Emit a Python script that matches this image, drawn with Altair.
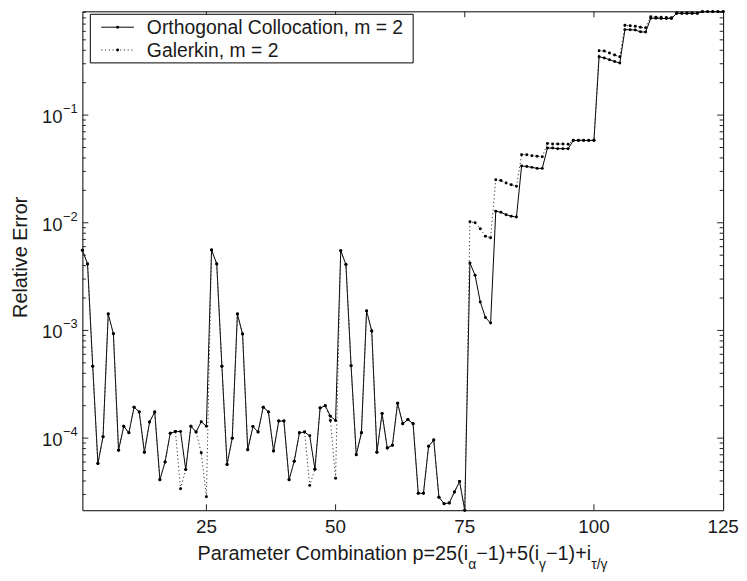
import altair as alt
import pandas as pd

# ---------------- data ----------------
p = list(range(1, 126))

oc_block1 = [5.56e-3, 4.15e-3, 4.65e-4, 5.8e-5, 1.03e-4, 1.42e-3, 9.33e-4, 7.7e-5, 1.29e-4, 1.12e-4,
             1.94e-4, 1.75e-4, 7.4e-5, 1.41e-4, 1.75e-4, 4.1e-5, 6.0e-5, 1.11e-4, 1.15e-4, 1.15e-4,
             5.1e-5, 1.29e-4, 1.14e-4, 1.42e-4, 1.29e-4]
oc_block2 = [5.6e-3, 4.15e-3, 4.65e-4, 5.7e-5, 1.0e-4, 1.42e-3, 9.27e-4, 7.8e-5, 1.28e-4, 1.14e-4,
             1.94e-4, 1.75e-4, 7.6e-5, 1.44e-4, 1.44e-4, 4.1e-5, 6.1e-5, 1.12e-4, 1.14e-4, 1.05e-4,
             5.15e-5, 1.9e-4, 2.0e-4, 1.6e-4, 1.46e-4]
oc_block3 = [5.5e-3, 4.1e-3, 4.7e-4, 7.0e-5, 1.12e-4, 1.52e-3, 9.9e-4, 7.4e-5, 1.69e-4, 8.1e-5,
             8.6e-5, 2.11e-4, 1.36e-4, 1.49e-4, 1.36e-4, 3.07e-5, 3.07e-5, 8.4e-5, 9.6e-5, 2.83e-5,
             2.46e-5, 2.5e-5, 3.16e-5, 3.95e-5, 2.14e-5]
oc_block4 = [4.24e-3, 3.25e-3, 1.84e-3, 1.32e-3, 1.17e-3, 1.28e-2, 1.25e-2, 1.19e-2, 1.15e-2, 1.13e-2,
             3.37e-2, 3.33e-2, 3.27e-2, 3.2e-2, 3.2e-2, 4.94e-2, 4.94e-2, 4.88e-2, 4.88e-2, 4.88e-2,
             5.81e-2, 5.81e-2, 5.81e-2, 5.81e-2, 5.81e-2]
oc_block5 = [0.349, 0.339, 0.327, 0.314, 0.305, 0.622, 0.62, 0.616, 0.593, 0.59,
             0.794, 0.794, 0.79, 0.788, 0.788, 0.88, 0.88, 0.88, 0.88, 0.88,
             0.914, 0.914, 0.914, 0.914, 0.914]

gal_block1 = [5.56e-3, 4.15e-3, 4.65e-4, 5.8e-5, 1.03e-4, 1.42e-3, 9.33e-4, 7.7e-5, 1.29e-4, 1.12e-4,
              1.94e-4, 1.75e-4, 7.4e-5, 1.41e-4, 1.75e-4, 4.1e-5, 6.0e-5, 1.11e-4, 1.15e-4, 3.39e-5,
              5.1e-5, 1.29e-4, 1.14e-4, 7.3e-5, 2.85e-5]
gal_block2 = [5.6e-3, 4.15e-3, 4.65e-4, 5.7e-5, 1.0e-4, 1.42e-3, 9.27e-4, 7.8e-5, 1.28e-4, 1.14e-4,
              1.94e-4, 1.75e-4, 7.6e-5, 1.44e-4, 1.44e-4, 4.1e-5, 6.1e-5, 1.12e-4, 1.14e-4, 3.64e-5,
              5.15e-5, 1.9e-4, 2.0e-4, 1.46e-4, 4.24e-5]
gal_block3 = [5.5e-3, 4.1e-3, 4.7e-4, 7.0e-5, 1.12e-4, 1.52e-3, 9.9e-4, 7.4e-5, 1.69e-4, 8.1e-5,
              8.6e-5, 2.11e-4, 1.36e-4, 1.49e-4, 1.36e-4, 3.07e-5, 3.07e-5, 8.4e-5, 9.6e-5, 2.83e-5,
              2.46e-5, 2.5e-5, 3.16e-5, 3.95e-5, 2.14e-5]
gal_block4 = [1.02e-2, 1.0e-2, 8.8e-3, 7.5e-3, 7.26e-3, 2.51e-2, 2.47e-2, 2.34e-2, 2.26e-2, 2.18e-2,
              4.29e-2, 4.29e-2, 4.2e-2, 4.15e-2, 4.1e-2, 5.45e-2, 5.4e-2, 5.4e-2, 5.38e-2, 5.35e-2,
              5.85e-2, 5.85e-2, 5.85e-2, 5.85e-2, 5.85e-2]
gal_block5 = [0.395, 0.393, 0.377, 0.361, 0.349, 0.682, 0.675, 0.67, 0.655, 0.648,
              0.82, 0.81, 0.81, 0.805, 0.80, 0.89, 0.89, 0.89, 0.89, 0.89,
              0.914, 0.914, 0.914, 0.914, 0.914]

x_tick_values = [25, 50, 75, 100]
x_label_values = [25, 50, 75, 100, 125]
y_major_values = [1e-4, 1e-3, 1e-2, 1e-1]
y_major_exps = ["\u22124", "\u22123", "\u22122", "\u22121"]
y_minor_values = [3e-5, 4e-5, 5e-5, 6e-5, 7e-5, 8e-5, 9e-5,
                  2e-4, 3e-4, 4e-4, 5e-4, 6e-4, 7e-4, 8e-4, 9e-4,
                  2e-3, 3e-3, 4e-3, 5e-3, 6e-3, 7e-3, 8e-3, 9e-3,
                  2e-2, 3e-2, 4e-2, 5e-2, 6e-2, 7e-2, 8e-2, 9e-2,
                  2e-1, 3e-1, 4e-1, 5e-1, 6e-1, 7e-1, 8e-1, 9e-1]

series_names = ["Orthogonal Collocation, m = 2", "Galerkin, m = 2"]
y_title = "Relative Error"

oc = oc_block1 + oc_block2 + oc_block3 + oc_block4 + oc_block5
gal = gal_block1 + gal_block2 + gal_block3 + gal_block4 + gal_block5

df = pd.DataFrame({"p": p, "oc": oc, "gal": gal})

# ---------------- layout ----------------
W, H = 646, 503
FONT = "Liberation Sans"
xs = alt.Scale(domain=[1, 125], nice=False, zero=False)
ys = alt.Scale(type="log", domain=[2.14e-5, 0.92], nice=False)

ARIAL = {
    "P": 667, "a": 556, "r": 333, "m": 833, "e": 556, "t": 278, " ": 278, "C": 722, "o": 556,
    "b": 556, "i": 222, "n": 556, "p": 556, "=": 584, "2": 556, "5": 556, "(": 333, ")": 333,
    "\u2212": 584, "1": 556, "+": 584, "\u03b1": 578, "\u03b3": 500, "\u03c4": 430, "/": 278,
    "O": 778, "h": 556, "g": 556, "l": 222, "c": 500, ",": 278, "G": 778, "k": 500,
}


def tw(s, size):
    return sum(ARIAL.get(ch, 556) for ch in s) / 1000.0 * size


one = alt.Data(values=[{}])

# ---------------- data marks ----------------
X = alt.X("p:Q", scale=xs, axis=None)
oc_line = alt.Chart(df).mark_line(color="black", strokeWidth=1).encode(
    x=X, y=alt.Y("oc:Q", scale=ys, axis=None))
gal_line = alt.Chart(df).mark_line(color="#333333", strokeWidth=1, strokeDash=[1.2, 2.6]).encode(
    x=X, y=alt.Y("gal:Q", scale=ys, axis=None))
oc_pts = alt.Chart(df).mark_point(filled=True, shape="circle", size=9, color="black", opacity=1).encode(
    x=X, y=alt.Y("oc:Q", scale=ys, axis=None))
gal_pts = alt.Chart(df).mark_point(filled=True, shape="circle", size=9, color="black", opacity=1).encode(
    x=X, y=alt.Y("gal:Q", scale=ys, axis=None))

# ---------------- ticks (inward, MATLAB style) ----------------
ymaj = pd.DataFrame({"v": y_major_values, "e": y_major_exps})
ymin = pd.DataFrame({"v": y_minor_values})
xt = pd.DataFrame({"v": x_tick_values})
xl = pd.DataFrame({"v": x_label_values, "t": [str(v) for v in x_label_values]})

YV = alt.Y("v:Q", scale=ys, axis=None)
XV = alt.X("v:Q", scale=xs, axis=None)
tick_color = "#222222"
ticks = [
    alt.Chart(ymaj).mark_rule(color=tick_color, strokeWidth=1).encode(y=YV, x=alt.value(0), x2=alt.value(6)),
    alt.Chart(ymaj).mark_rule(color=tick_color, strokeWidth=1).encode(y=YV, x=alt.value(W - 6), x2=alt.value(W)),
    alt.Chart(ymin).mark_rule(color=tick_color, strokeWidth=1).encode(y=YV, x=alt.value(0), x2=alt.value(3.5)),
    alt.Chart(ymin).mark_rule(color=tick_color, strokeWidth=1).encode(y=YV, x=alt.value(W - 3.5), x2=alt.value(W)),
    alt.Chart(xt).mark_rule(color=tick_color, strokeWidth=1).encode(x=XV, y=alt.value(H - 6), y2=alt.value(H)),
    alt.Chart(xt).mark_rule(color=tick_color, strokeWidth=1).encode(x=XV, y=alt.value(0), y2=alt.value(6)),
]

# ---------------- tick labels ----------------
y_lab10 = alt.Chart(ymaj).mark_text(font=FONT, fontSize=18.6, align="right", baseline="alphabetic",
                                    dy=8, color="#1a1a1a").encode(
    y=YV, x=alt.value(-20), text=alt.value("10"))
y_labexp = alt.Chart(ymaj).mark_text(font=FONT, fontSize=13, align="left", baseline="alphabetic",
                                     dy=-2, color="#1a1a1a").encode(
    y=YV, x=alt.value(-19.5), text="e:N")
x_lab = alt.Chart(xl).mark_text(font=FONT, fontSize=19, align="center", baseline="alphabetic",
                                color="#1a1a1a").encode(
    x=XV, y=alt.value(H + 23), text="t:N")

# ---------------- axis titles ----------------
ytitle = alt.Chart(one).mark_text(font=FONT, fontSize=20, angle=270, align="center", baseline="middle",
                                  color="#1a1a1a").encode(
    x=alt.value(-62), y=alt.value(248), text=alt.value(y_title))

F_MAIN, F_SUB = 20, 14
segments = [("Parameter Combination p=25(i", False), ("\u03b1", True), ("\u22121)+5(i", False),
            ("\u03b3", True), ("\u22121)+i", False), ("\u03c4/\u03b3", True)]
total = sum(tw(s, F_SUB if sub else F_MAIN) for s, sub in segments)
cx = W / 2 - total / 2
base_main = H + 50
title_layers = []
for s, sub in segments:
    size = F_SUB if sub else F_MAIN
    title_layers.append(
        alt.Chart(one).mark_text(font=FONT, fontSize=size, align="left", baseline="alphabetic",
                                 color="#1a1a1a").encode(
            x=alt.value(cx), y=alt.value(base_main + (9 if sub else 0)), text=alt.value(s)))
    cx += tw(s, size)

# ---------------- legend ----------------
LF = 19.5
lx0, ly0 = 8, 3
text_x = 65
lw = max(tw(n, LF) for n in series_names)
lx1 = text_x + lw + 10
ly1 = 52
row_y = [16, 39]
legend = [
    alt.Chart(one).mark_rect(fill="white", stroke="black", strokeWidth=1).encode(
        x=alt.value(lx0), x2=alt.value(lx1), y=alt.value(ly0), y2=alt.value(ly1)),
    alt.Chart(one).mark_rule(color="black", strokeWidth=1).encode(
        x=alt.value(19), x2=alt.value(52), y=alt.value(row_y[0])),
    alt.Chart(one).mark_rule(color="#333333", strokeWidth=1, strokeDash=[1.2, 2.6]).encode(
        x=alt.value(19), x2=alt.value(52), y=alt.value(row_y[1])),
    alt.Chart(one).mark_point(filled=True, shape="circle", size=9, color="black", opacity=1).encode(
        x=alt.value(35.5), y=alt.value(row_y[0])),
    alt.Chart(one).mark_point(filled=True, shape="circle", size=9, color="black", opacity=1).encode(
        x=alt.value(35.5), y=alt.value(row_y[1])),
    alt.Chart(one).mark_text(font=FONT, fontSize=LF, align="left", baseline="middle", color="#1a1a1a").encode(
        x=alt.value(text_x), y=alt.value(row_y[0] + 1), text=alt.value(series_names[0])),
    alt.Chart(one).mark_text(font=FONT, fontSize=LF, align="left", baseline="middle", color="#1a1a1a").encode(
        x=alt.value(text_x), y=alt.value(row_y[1] + 1), text=alt.value(series_names[1])),
]

chart = alt.layer(
    oc_line, gal_line, oc_pts, gal_pts, *ticks, y_lab10, y_labexp, x_lab, ytitle, *title_layers, *legend
).properties(
    width=W, height=H,
    padding={"left": 75, "top": 1, "right": 16, "bottom": 68},
    autosize=alt.AutoSizeParams(type="none"),
).configure_view(stroke="black", strokeWidth=1)

chart.save("out.html", embed_options={"renderer": "svg", "actions": False})
